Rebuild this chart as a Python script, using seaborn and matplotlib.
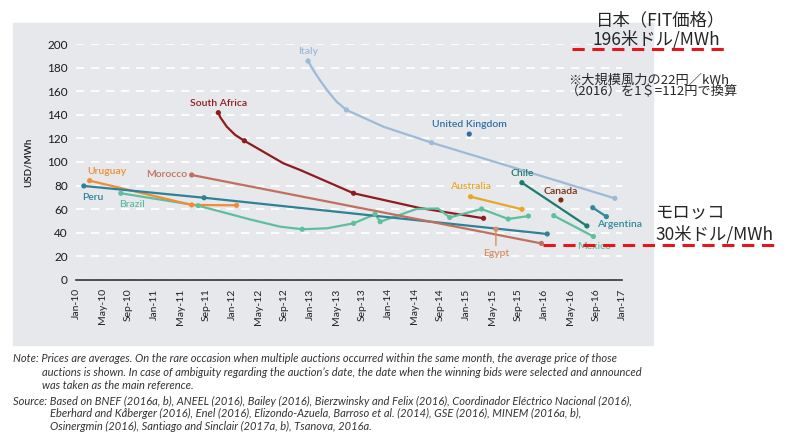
import pandas as pd
import matplotlib.pyplot as plt
import seaborn as sns
from matplotlib.patches import Rectangle

# x = months counted from Jan-10, y = USD/MWh
italy_m = [35.7, 36.5, 37.5, 38.8, 40.1, 41.6, 47.3, 54.7, 82.9]
italy_v = [185.6, 178.0, 169.5, 159.6, 151.1, 144.1, 129.9, 116.4, 69.2]
italy_dot = [1, 0, 0, 0, 0, 1, 0, 1, 1]

safrica_m = [21.9, 22.2, 23.2, 24.5, 25.9, 31.9, 34.5, 42.7, 52.9, 62.7]
safrica_v = [141.8, 137.9, 129.9, 122.9, 118.0, 98.9, 93.2, 73.5, 61.0, 52.3]
safrica_dot = [1, 0, 0, 0, 1, 0, 0, 1, 0, 1]

brazil_m = [6.9, 18.8, 26.8, 31.4, 34.8, 38.6, 42.7, 46.0, 46.8, 48.3, 52.4, 55.7, 57.5, 62.4, 66.5, 69.6]
brazil_v = [73.5, 63.0, 51.3, 45.2, 43.0, 43.8, 48.0, 55.7, 49.4, 52.3, 60.2, 60.6, 53.0, 60.2, 51.7, 54.2]
brazil_dot = [1, 1, 0, 0, 1, 0, 1, 1, 1, 0, 0, 0, 1, 1, 1, 1]

uruguay_m = [2.1, 17.8, 24.7]
uruguay_v = [84.2, 63.6, 63.3]
peru_m = [1.2, 19.7, 72.5]
peru_v = [79.7, 69.7, 39.0]
morocco_m = [17.8, 71.6]
morocco_v = [89.0, 31.0]
mexico_m = [73.5, 79.6]
mexico_v = [54.5, 36.9]
australia_m = [60.7, 68.6]
australia_v = [70.6, 59.9]
chile_m = [68.6, 78.6]
chile_v = [82.5, 45.8]
argentina_m = [79.5, 81.6]
argentina_v = [61.3, 53.7]
uk_m, uk_v = [60.5], [123.7]
canada_m, canada_v = [74.6], [67.8]
egypt_m, egypt_v = [64.6], [43.0]

japan_fit = 196
morocco_ref = 30

tick_labels = ['Jan-10', 'May-10', 'Sep-10', 'Jan-11', 'May-11', 'Sep-11', 'Jan-12',
               'May-12', 'Sep-12', 'Jan-13', 'May-13', 'Sep-13', 'Jan-14', 'May-14',
               'Sep-14', 'Jan-15', 'May-15', 'Sep-15', 'Jan-16', 'May-16', 'Sep-16', 'Jan-17']

colors = {
    'Italy': '#9dbad9', 'South Africa': '#8e1c1f', 'United Kingdom': '#2f6ea3',
    'Morocco': '#c0705f', 'Uruguay': '#f08c35', 'Peru': '#2f8196', 'Brazil': '#5dbf9c',
    'Mexico': '#5dbf9c', 'Australia': '#e9a626', 'Chile': '#1b7b70', 'Canada': '#7a2e12',
    'Argentina': '#2e8a9c', 'Egypt': '#dc8c5f',
}

series = {
    'Italy': (italy_m, italy_v, italy_dot),
    'South Africa': (safrica_m, safrica_v, safrica_dot),
    'Brazil': (brazil_m, brazil_v, brazil_dot),
    'Uruguay': (uruguay_m, uruguay_v, None),
    'Peru': (peru_m, peru_v, None),
    'Morocco': (morocco_m, morocco_v, None),
    'Mexico': (mexico_m, mexico_v, None),
    'Australia': (australia_m, australia_v, None),
    'Chile': (chile_m, chile_v, None),
    'Argentina': (argentina_m, argentina_v, None),
    'United Kingdom': (uk_m, uk_v, None),
    'Canada': (canada_m, canada_v, None),
    'Egypt': (egypt_m, egypt_v, None),
}

rows = []
for name, (m, v, d) in series.items():
    if d is None:
        d = [1] * len(m)
    for a, b, c in zip(m, v, d):
        rows.append({'country': name, 'month': a, 'price': b, 'dot': c})
df = pd.DataFrame(rows)

sns.set_style('white')
plt.rcParams['font.family'] = ['Lato', 'DejaVu Sans']

fig = plt.figure(figsize=(8, 4.42), dpi=100)
# grey panel behind the chart
bg = fig.add_axes([0, 0, 1, 1], zorder=-5)
bg.axis('off')
bg.add_patch(Rectangle((13 / 800, 1 - 345 / 442), 640 / 800, 322 / 442,
                       transform=bg.transAxes, color='#e6e8eb'))

ax = fig.add_axes([76 / 800, 162 / 442, 546 / 800, 236 / 442], zorder=1)
ax.set_facecolor('none')

lines = df[df['country'].map(df['country'].value_counts()) > 1]
sns.lineplot(data=lines, x='month', y='price', hue='country', palette=colors,
             estimator=None, sort=False, linewidth=1.6, legend=False, ax=ax)
sns.scatterplot(data=df[df['dot'] == 1], x='month', y='price', hue='country',
                palette=colors, s=14, linewidth=0, legend=False, zorder=4, ax=ax)

ax.set_xlim(0, 84)
ax.set_ylim(0, 200)
ax.set_yticks(range(0, 201, 20))
ax.set_xticks(range(0, 85, 4))
ax.set_xticklabels(tick_labels, rotation=90)
ax.grid(axis='y', color='white', linestyle=(0, (5, 4)), linewidth=1.2)
ax.grid(axis='x', visible=False)
ax.set_axisbelow(True)
for s in ['top', 'right', 'left']:
    ax.spines[s].set_visible(False)
ax.spines['bottom'].set_color('#333333')
ax.spines['bottom'].set_linewidth(1.2)
ax.tick_params(axis='y', length=0, labelsize=8.5, pad=6, colors='#1a1a1a')
ax.tick_params(axis='x', length=4, width=1, direction='out', labelsize=7.5,
               colors='#222222', pad=2)
ax.set_xlabel('')
ax.set_ylabel('USD/MWh', fontsize=7, color='#1a1a1a', fontweight='semibold')
ax.yaxis.set_label_coords(-0.079, 0.5)

# country labels
labels = [
    ('Italy', 35.7, 194, 'center'), ('South Africa', 22.0, 150, 'center'),
    ('United Kingdom', 60.5, 132, 'center'), ('Morocco', 17.1, 89.6, 'right'),
    ('Uruguay', 4.8, 91.8, 'center'), ('Peru', 2.6, 69.7, 'center'),
    ('Brazil', 8.6, 64.2, 'center'), ('Australia', 60.7, 79, 'center'),
    ('Chile', 68.6, 90.4, 'center'), ('Canada', 74.6, 75.4, 'center'),
    ('Argentina', 83.6, 47.2, 'center'), ('Mexico', 79.7, 28.4, 'center'),
]
for name, x, y, ha in labels:
    ax.text(x, y, name, color=colors[name], fontsize=7.5, fontweight='semibold',
            ha=ha, va='center')
ax.annotate('Egypt', xy=(egypt_m[0], egypt_v[0]), xytext=(0, -14), textcoords='offset points',
            ha='center', va='top', fontsize=7.5, fontweight='semibold', color=colors['Egypt'],
            arrowprops=dict(arrowstyle='-', color=colors['Egypt'], lw=1, shrinkA=0, shrinkB=1))

# reference lines (Japan FIT / Morocco)
ax.hlines(japan_fit, 76.3, 100.6, colors='#e8141b', linestyles=(0, (4, 2.5)),
          linewidth=2.2, clip_on=False, zorder=5)
ax.hlines(morocco_ref, 71.8, 107.8, colors='#e8141b', linestyles=(0, (4, 2.5)),
          linewidth=2.2, clip_on=False, zorder=5)

jp = ['Noto Sans CJK JP', 'DejaVu Sans']
fig.text(661 / 800, 1 - 20 / 442, '日本（FIT価格）', family=jp, fontsize=12.5,
         ha='center', va='center')
fig.text(593 / 800, 1 - 39 / 442, '196米ドル/MWh', family=jp, fontsize=12.5,
         ha='left', va='center')
fig.text(568 / 800, 1 - 80 / 442, '※大規模風力の22円／kWh', family=jp, fontsize=9.5,
         ha='left', va='center')
fig.text(566 / 800, 1 - 92 / 442, '（2016）を1＄=112円で換算', family=jp, fontsize=9.5,
         ha='left', va='center')
fig.text(655 / 800, 1 - 213 / 442, 'モロッコ', family=jp, fontsize=12.5,
         ha='left', va='center')
fig.text(655 / 800, 1 - 234 / 442, '30米ドル/MWh', family=jp, fontsize=12.5,
         ha='left', va='center')

# notes
note_kw = dict(fontsize=8, style='italic', color='#333333', va='center')
fig.text(13 / 800, 1 - 358 / 442, 'Note: Prices are averages. On the rare occasion when multiple '
         'auctions occurred within the same month, the average price of those', **note_kw)
fig.text(42 / 800, 1 - 372 / 442, 'auctions is shown. In case of ambiguity regarding the auction\u2019s '
         'date, the date when the winning bids were selected and announced', **note_kw)
fig.text(42 / 800, 1 - 385 / 442, 'was taken as the main reference.', **note_kw)
fig.text(13 / 800, 1 - 401 / 442, 'Source: Based on BNEF (2016a, b), ANEEL (2016), Bailey (2016), '
         'Bierzwinsky and Felix (2016), Coordinador El\u00e9ctrico Nacional (2016),', **note_kw)
fig.text(50 / 800, 1 - 413 / 442, 'Eberhard and K\u00e5berger (2016), Enel (2016), Elizondo-Azuela, '
         'Barroso et al. (2014), GSE (2016), MINEM (2016a, b),', **note_kw)
fig.text(50 / 800, 1 - 426 / 442, 'Osinergmin (2016), Santiago and Sinclair (2017a, b), Tsanova, 2016a.',
         **note_kw)

fig.savefig('out.png', dpi=100)
